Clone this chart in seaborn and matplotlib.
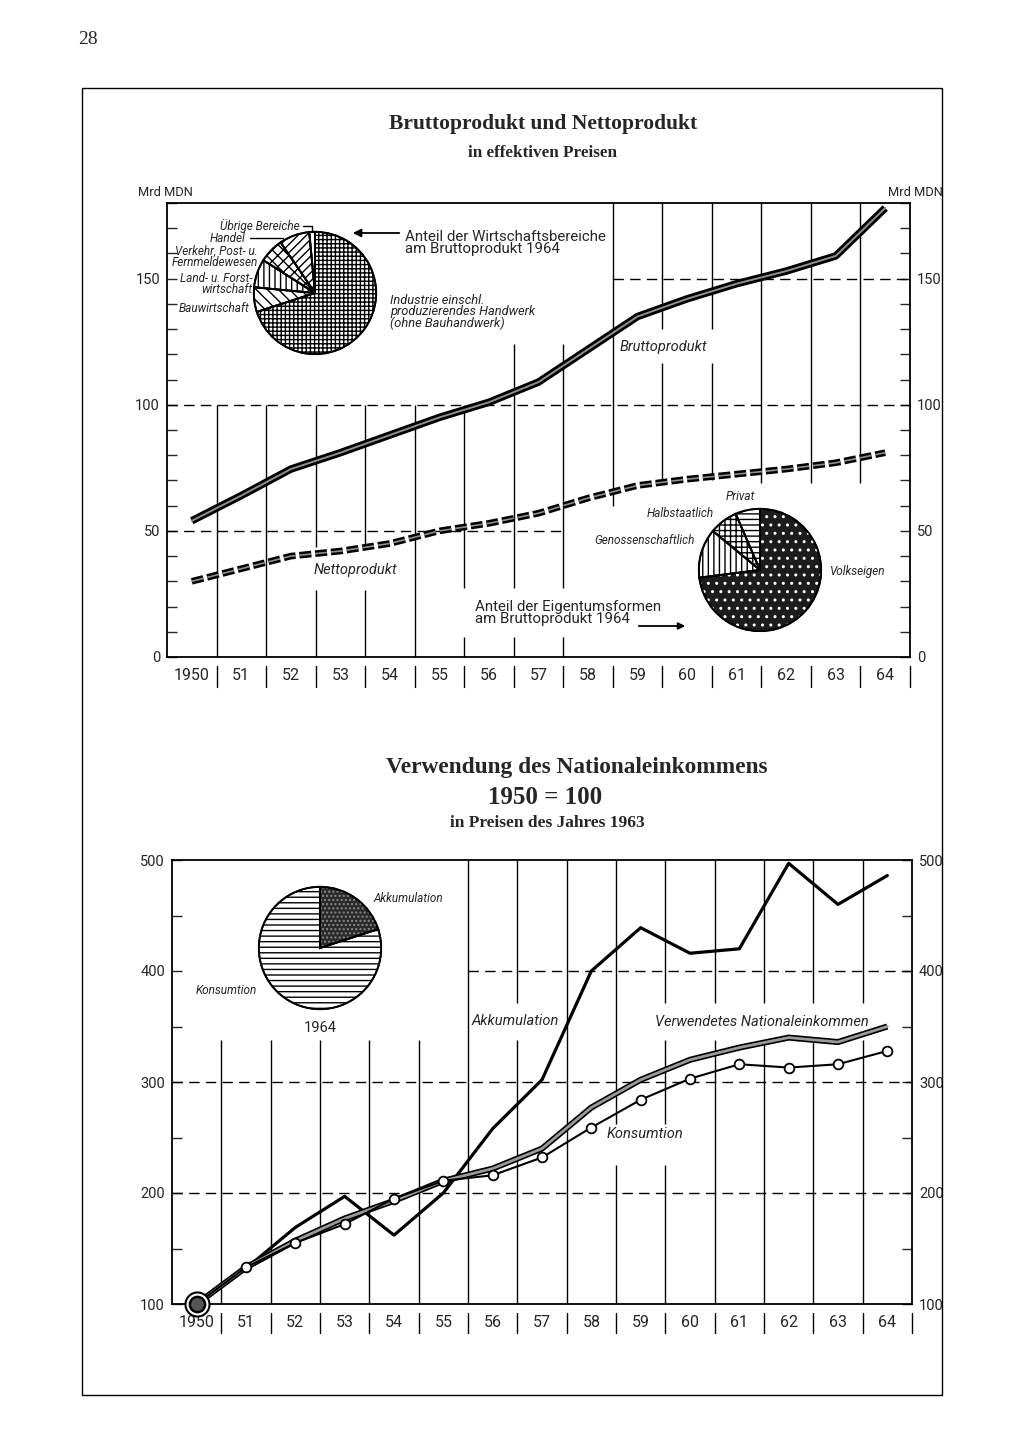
import matplotlib
matplotlib.use('Agg')
import matplotlib.pyplot as plt
import matplotlib.transforms as mtransforms
from matplotlib.ticker import MultipleLocator, FixedLocator
from matplotlib.patches import Rectangle, FancyArrowPatch
import seaborn as sns

# ---------------------------------------------------------------
# data
# ---------------------------------------------------------------
years = list(range(1950, 1965))
year_labels = ['1950'] + [str(y)[2:] for y in years[1:]]

brutto = [54, 64, 74.5, 81, 88, 95, 101, 109, 122, 135, 142, 148, 153, 159, 178]
netto = [30, 35, 40, 42, 45, 50, 53, 57, 63, 68, 70.5, 72.5, 74.5, 77, 81]

bereiche = ['Industrie', 'Bauwirtschaft', 'Land- u. Forstwirtschaft',
            'Verkehr, Post- u. Fernmeldewesen', 'Handel', 'Übrige Bereiche']
bereiche_anteil = [70, 6.5, 7.5, 6.5, 8, 1.5]

eigentum = ['Volkseigen', 'Genossenschaftlich', 'Halbstaatlich', 'Privat']
eigentum_anteil = [73, 13, 7.5, 6.5]

nationaleink = [100, 133, 157, 177, 193, 211, 222, 240, 277, 302, 320, 331, 340, 336, 350]
akkumulation = [100, 132, 169, 197, 162, 200, 258, 302, 400, 439, 416, 420, 497, 460, 486]
konsumtion = [100, 133, 155, 172, 195, 211, 216, 232, 259, 284, 303, 316, 313, 316, 328]

verwendung = ['Akkumulation', 'Konsumtion']
verwendung_anteil = [20, 80]

# ---------------------------------------------------------------
sns.set_style('white')
plt.rcParams['font.family'] = ['Roboto', 'DejaVu Sans']
plt.rcParams['lines.scale_dashes'] = False
plt.rcParams['hatch.linewidth'] = 1.0

W, H = 1024, 1455
fig = plt.figure(figsize=(W / 100, H / 100), dpi=100)

def fx(px):
    return px / W

def fy(py):
    return 1 - py / H

def t(px, py, s, **kw):
    kw.setdefault('va', 'center')
    kw.setdefault('ha', 'center')
    return fig.text(fx(px), fy(py), s, **kw)

serif = ['Liberation Serif', 'DejaVu Serif']

# page frame + page number
fig.patches.append(Rectangle((fx(82), fy(1395)), (942 - 82) / W, (1395 - 88) / H,
                             transform=fig.transFigure, fill=False, lw=1.0, color='black'))
t(88, 40, '28', family=serif, fontsize=14)

# ---------------------------------------------------------------
# TOP CHART
# ---------------------------------------------------------------
ax1 = fig.add_axes([fx(167), fy(657), (910 - 167) / W, (657 - 203) / H])
ax1.set_xlim(1949.5, 1964.5)
ax1.set_ylim(0, 180)

# broken vertical grid lines (gaps where labels sit)
top_vsegs = {1950.5: [(0, 100)], 1951.5: [(0, 100)],
             1952.5: [(0, 26.5), (43.5, 100)], 1953.5: [(0, 26.5), (43.5, 100)],
             1954.5: [(0, 100)], 1955.5: [(0, 8), (27.5, 100)],
             1956.5: [(0, 8), (27.5, 124)], 1957.5: [(0, 8), (27.5, 124)],
             1958.5: [(60, 180)], 1959.5: [(70, 116.5), (130, 180)],
             1960.5: [(70, 116.5), (130, 180)], 1961.5: [(69, 180)],
             1962.5: [(69, 180)], 1963.5: [(69, 180)]}
for xb, segs in top_vsegs.items():
    for y0, y1 in segs:
        ax1.vlines(xb, y0, y1, color='black', lw=1.0, zorder=1)

dash_grid = (0, (7.5, 4.5))
ax1.hlines(150, 1958.5, 1964.5, color='black', lw=1.0, linestyles=[dash_grid], zorder=1)
ax1.hlines(100, 1949.5, 1964.5, color='black', lw=1.0, linestyles=[dash_grid], zorder=1)
ax1.hlines(50, 1949.5, 1957.5, color='black', lw=1.0, linestyles=[dash_grid], zorder=1)

sns.lineplot(x=years, y=brutto, ax=ax1, color='black', linewidth=5.4,
             solid_capstyle='butt', zorder=3)
sns.lineplot(x=years, y=brutto, ax=ax1, color='#8f8f8f', linewidth=1.4, zorder=4)
sns.lineplot(x=years, y=netto, ax=ax1, color='black', linewidth=4.8,
             linestyle=(0, (8.6, 2.8)), zorder=3)
sns.lineplot(x=years, y=netto, ax=ax1, color='#8f8f8f', linewidth=1.2,
             linestyle=(0, (8.6, 2.8)), zorder=4)

# ---------------------------------------------------------------
# BOTTOM CHART
# ---------------------------------------------------------------
ax2 = fig.add_axes([fx(172), fy(1304), (912 - 172) / W, (1304 - 860) / H])
ax2.set_xlim(1949.5, 1964.5)
ax2.set_ylim(100, 500)

bot_vsegs = {1950.5: [(100, 338)], 1951.5: [(100, 338)], 1952.5: [(100, 338)],
             1953.5: [(100, 338)], 1954.5: [(100, 338)], 1955.5: [(100, 500)],
             1956.5: [(100, 338), (371, 500)], 1957.5: [(100, 500)],
             1958.5: [(100, 225), (262, 500)],
             1959.5: [(100, 225), (262, 338), (371, 500)],
             1960.5: [(100, 338), (371, 500)], 1961.5: [(100, 338), (371, 500)],
             1962.5: [(100, 338), (371, 500)], 1963.5: [(100, 338), (371, 500)]}
for xb, segs in bot_vsegs.items():
    for y0, y1 in segs:
        ax2.vlines(xb, y0, y1, color='black', lw=1.0, zorder=1)

ax2.hlines(400, 1955.5, 1964.5, color='black', lw=1.0, linestyles=[dash_grid], zorder=1)
ax2.hlines(300, 1949.5, 1964.5, color='black', lw=1.0, linestyles=[dash_grid], zorder=1)
ax2.hlines(200, 1949.5, 1964.5, color='black', lw=1.0, linestyles=[dash_grid], zorder=1)

sns.lineplot(x=years, y=akkumulation, ax=ax2, color='black', linewidth=2.3, zorder=3)
sns.lineplot(x=years, y=nationaleink, ax=ax2, color='black', linewidth=4.4,
             solid_capstyle='butt', zorder=4)
sns.lineplot(x=years, y=nationaleink, ax=ax2, color='#9a9a9a', linewidth=2.0, zorder=5)
sns.lineplot(x=years, y=konsumtion, ax=ax2, color='black', linewidth=1.5, zorder=6,
             marker='o', markersize=7, markerfacecolor='white', markeredgecolor='black',
             markeredgewidth=1.3, markevery=list(range(1, len(years))))
# 1950 = 100 start point
ax2.scatter([years[0]], [konsumtion[0]], s=300, facecolor='white', edgecolor='black',
            linewidth=1.5, zorder=7, clip_on=False)
ax2.scatter([years[0]], [konsumtion[0]], s=120, facecolor='#555555', edgecolor='black',
            linewidth=1.8, zorder=8, clip_on=False)

# ---------------------------------------------------------------
# axes styling shared by both charts
# ---------------------------------------------------------------
for ax, major, minor in ((ax1, 50, 10), (ax2, 100, 50)):
    for sp in ax.spines.values():
        sp.set_visible(True)
        sp.set_linewidth(1.3)
        sp.set_color('black')
    ax.set_xlabel('')
    ax.set_ylabel('')
    ax.yaxis.set_major_locator(MultipleLocator(major))
    ax.yaxis.set_minor_locator(MultipleLocator(minor))
    ax.tick_params(axis='y', which='both', direction='in', left=True, right=True,
                   labelleft=True, labelright=True, length=7, width=1.0,
                   labelsize=10.5, pad=5)
    ax.set_xticks(years)
    ax.set_xticklabels(year_labels)
    ax.tick_params(axis='x', which='both', length=0, labelsize=11.5, pad=8)
    ax.xaxis.set_minor_locator(FixedLocator([]))
    # separators between the year labels
    trans = mtransforms.blended_transform_factory(ax.transData, ax.transAxes)
    for yb in years:
        ax.plot([yb + 0.5, yb + 0.5], [-0.02, -0.066], transform=trans,
                color='black', lw=1.0, clip_on=False)

# ---------------------------------------------------------------
# pies
# ---------------------------------------------------------------
def pie_ax(cx, cy, r):
    pax = fig.add_axes([fx(cx - r), fy(cy + r), 2 * r / W, 2 * r / H])
    pax.set_axis_off()
    return pax

def draw_pie(pax, values, faces, hatches, dots):
    w1, _ = pax.pie(values, startangle=90, counterclock=False, radius=1,
                    wedgeprops=dict(edgecolor='black', linewidth=1.2))
    for w, fc, h in zip(w1, faces, hatches):
        w.set_facecolor(fc)
        w.set_hatch(h)
    # light dots on the dark slices
    w2, _ = pax.pie(values, startangle=90, counterclock=False, radius=1,
                    wedgeprops=dict(linewidth=0))
    for w, d in zip(w2, dots):
        w.set_facecolor('none')
        if d:
            w.set_edgecolor(d[0])
            w.set_hatch(d[1])
        else:
            w.set_edgecolor('none')
    pax.pie(values, startangle=90, counterclock=False, radius=1,
            wedgeprops=dict(facecolor='none', edgecolor='black', linewidth=1.4))
    pax.set_xlim(-1.03, 1.03)
    pax.set_ylim(-1.03, 1.03)

p1 = pie_ax(315, 293, 63)
draw_pie(p1, bereiche_anteil,
         ['white'] * 6,
         ['++++', '\\\\\\', '|||', 'xxx', '////', None],
         [None] * 6)

p2 = pie_ax(760, 570, 63)
draw_pie(p2, eigentum_anteil,
         ['#1c1c1c', 'white', 'white', 'white'],
         [None, '|||', '+++', '---'],
         [('white', '..'), None, None, None])

p3 = pie_ax(320, 948, 63)
draw_pie(p3, verwendung_anteil,
         ['#2a2a2a', 'white'],
         [None, '---'],
         [('#8a8a8a', '....'), None])

# ---------------------------------------------------------------
# texts
# ---------------------------------------------------------------
t(543, 124, 'Bruttoprodukt und Nettoprodukt', family=serif, weight='bold', fontsize=15.5)
t(543, 153, 'in effektiven Preisen', family=serif, weight='bold', fontsize=12.3)
t(165, 192, 'Mrd MDN', fontsize=9.3)
t(915, 192, 'Mrd MDN', fontsize=9.3)

t(405, 243, 'Anteil der Wirtschaftsbereiche\nam Bruttoprodukt 1964', ha='left',
  fontsize=10.8, linespacing=0.9)
fig.add_artist(FancyArrowPatch(
    (fx(402), fy(233)), (fx(350), fy(233)), transform=fig.transFigure,
    arrowstyle='-|>', mutation_scale=12, color='black', lw=1.3))
t(390, 312, 'Industrie einschl.\nproduzierendes Handwerk\n(ohne Bauhandwerk)', ha='left',
  style='italic', fontsize=9.3, linespacing=0.85)

t(300, 226, 'Übrige Bereiche', ha='right', style='italic', fontsize=8.5)
t(245, 238, 'Handel', ha='right', style='italic', fontsize=8.5)
t(258, 257, 'Verkehr, Post- u.\nFernmeldewesen', ha='right', style='italic',
  fontsize=8.5, linespacing=0.8)
t(252, 284, 'Land- u. Forst-\nwirtschaft', ha='right', style='italic',
  fontsize=8.5, linespacing=0.8)
t(249, 308, 'Bauwirtschaft', ha='right', style='italic', fontsize=8.5)
fig.add_artist(plt.Line2D([fx(303), fx(312), fx(312)], [fy(226), fy(226), fy(232)],
                          color='black', lw=1.0))
fig.add_artist(plt.Line2D([fx(250), fx(283)], [fy(238), fy(238)], color='black', lw=1.0))

t(663, 347, 'Bruttoprodukt', style='italic', fontsize=10.5)
t(355, 570, 'Nettoprodukt', style='italic', fontsize=10.5)

t(740, 497, 'Privat', style='italic', fontsize=8.5)
t(680, 513, 'Halbstaatlich', style='italic', fontsize=8.5)
t(645, 541, 'Genossenschaftlich', style='italic', fontsize=8.5)
t(857, 572, 'Volkseigen', style='italic', fontsize=8.5)
t(475, 613, 'Anteil der Eigentumsformen\nam Bruttoprodukt 1964', ha='left',
  fontsize=10.8, linespacing=0.9)
fig.add_artist(FancyArrowPatch(
    (fx(636), fy(626)), (fx(688), fy(626)), transform=fig.transFigure,
    arrowstyle='-|>', mutation_scale=10, color='black', lw=1.3))

t(577, 768, 'Verwendung des Nationaleinkommens', family=serif, weight='bold', fontsize=16.8)
t(545, 797, '1950 = 100', family=serif, weight='bold', fontsize=18)
t(547, 823, 'in Preisen des Jahres 1963', family=serif, weight='bold', fontsize=12.5)

t(408, 899, 'Akkumulation', style='italic', fontsize=8.5)
t(226, 990, 'Konsumtion', style='italic', fontsize=8.5)
t(320, 1028, '1964', fontsize=10.5)
t(515, 1021, 'Akkumulation', style='italic', fontsize=10.5)
t(762, 1022, 'Verwendetes Nationaleinkommen', style='italic', fontsize=10.5)
t(645, 1134, 'Konsumtion', style='italic', fontsize=10.5)

fig.savefig('out.png', dpi=100, facecolor='white')
